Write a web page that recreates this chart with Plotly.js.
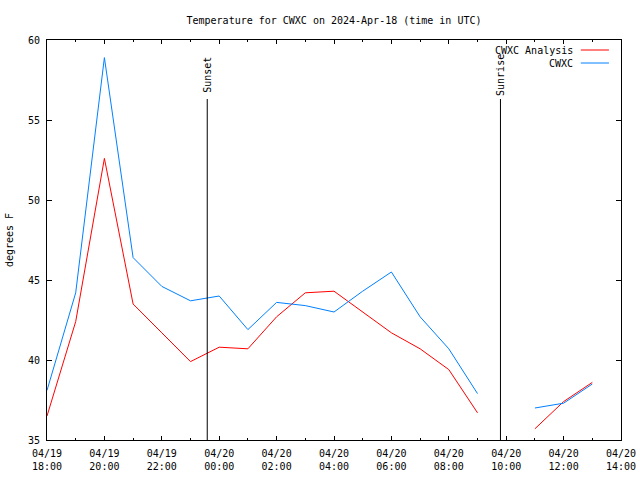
<!DOCTYPE html>
<html>
<head>
<meta charset="utf-8">
<script src="https://cdn.plot.ly/plotly-3.0.1.min.js"></script>
<style>html,body{margin:0;padding:0;background:#fff;}#chart{width:640px;height:480px;}</style>
</head>
<body>
<div id="chart"></div>
<script>
const times = [
  "2024-04-19 18:00","2024-04-19 19:00","2024-04-19 20:00","2024-04-19 21:00",
  "2024-04-19 22:00","2024-04-19 23:00","2024-04-20 00:00","2024-04-20 01:00",
  "2024-04-20 02:00","2024-04-20 03:00","2024-04-20 04:00","2024-04-20 05:00",
  "2024-04-20 06:00","2024-04-20 07:00","2024-04-20 08:00","2024-04-20 09:00",
  "2024-04-20 10:00","2024-04-20 11:00","2024-04-20 12:00","2024-04-20 13:00"
];
const analysis = [36.5, 42.4, 52.6, 43.5, 41.7, 39.9, 40.8, 40.7, 42.7, 44.2, 44.3, 43.0, 41.7, 40.7, 39.4, 36.7, null, 35.7, 37.4, 38.6];
const observed = [38.1, 44.2, 58.9, 46.4, 44.6, 43.7, 44.0, 41.9, 43.6, 43.4, 43.0, 44.3, 45.5, 42.7, 40.7, 37.9, null, 37.0, 37.3, 38.5];
const seriesNames = ["CWXC Analysis", "CWXC"];
const seriesColors = ["#ff0000", "#0080ff"];
const tickVals = ["2024-04-19 18:00","2024-04-19 20:00","2024-04-19 22:00","2024-04-20 00:00","2024-04-20 02:00","2024-04-20 04:00","2024-04-20 06:00","2024-04-20 08:00","2024-04-20 10:00","2024-04-20 12:00","2024-04-20 14:00"];
const tickText = ["04/19<br>18:00","04/19<br>20:00","04/19<br>22:00","04/20<br>00:00","04/20<br>02:00","04/20<br>04:00","04/20<br>06:00","04/20<br>08:00","04/20<br>10:00","04/20<br>12:00","04/20<br>14:00"];
const eventTimes = ["2024-04-19 23:35", "2024-04-20 09:48"];
const eventLabels = ["Sunset", "Sunrise"];

const FONT = "DejaVu Sans Mono, Liberation Mono, monospace";

const traces = [
  {x: times, y: analysis, name: seriesNames[0], type: "scatter", mode: "lines",
   line: {color: seriesColors[0], width: 1}, connectgaps: false},
  {x: times, y: observed, name: seriesNames[1], type: "scatter", mode: "lines",
   line: {color: seriesColors[1], width: 1}, connectgaps: false}
];

const shapes = [];
const annotations = [];
eventTimes.forEach((t, i) => {
  shapes.push({type: "line", xref: "x", yref: "paper", x0: t, x1: t, y0: 0, y1: 0.8525,
               line: {color: "#000", width: 1}});
  annotations.push({xref: "x", yref: "paper", x: t, y: 0.91375, text: eventLabels[i],
                    textangle: -90, showarrow: false, xanchor: "center", yanchor: "middle",
                    font: {family: FONT, size: 10, color: "#000"}});
});
// legend (text left of sample line, gnuplot style)
const legendY = [0.975, 0.9425];
seriesNames.forEach((n, i) => {
  annotations.push({xref: "paper", yref: "paper", x: 0.919, y: legendY[i], text: n,
                    showarrow: false, xanchor: "right", yanchor: "middle",
                    font: {family: FONT, size: 10, color: "#000"}});
  shapes.push({type: "line", xref: "paper", yref: "paper", x0: 0.930, x1: 0.979,
               y0: legendY[i], y1: legendY[i], line: {color: seriesColors[i], width: 1}});
});

const layout = {
  width: 640, height: 480,
  margin: {l: 47, r: 19, t: 40, b: 40},
  paper_bgcolor: "#fff", plot_bgcolor: "#fff",
  showlegend: false,
  font: {family: FONT, size: 10, color: "#000"},
  title: {text: "Temperature for CWXC on 2024-Apr-18 (time in UTC)", x: 0.5, xref: "paper",
          y: 1 - 20/480, yref: "container", yanchor: "middle",
          font: {family: FONT, size: 10, color: "#000"}},
  xaxis: {type: "date", range: ["2024-04-19 18:00", "2024-04-20 14:00"],
          tickmode: "array", tickvals: tickVals, ticktext: tickText,
          ticks: "inside", ticklen: 4, tickcolor: "#000", tickwidth: 1,
          showline: true, linecolor: "#000", linewidth: 1, mirror: "ticks",
          showgrid: false, zeroline: false, ticklabelstandoff: 4,
          minor: {tick0: "2024-04-19 18:00", dtick: 3600000, ticks: "inside", ticklen: 2,
                  tickcolor: "#000", showgrid: false},
          tickfont: {family: FONT, size: 10, color: "#000"}},
  yaxis: {range: [35, 60], dtick: 5, tick0: 35,
          ticks: "inside", ticklen: 5, tickcolor: "#000", tickwidth: 1,
          showline: true, linecolor: "#000", linewidth: 1, mirror: "ticks",
          showgrid: false, zeroline: false, ticklabelstandoff: 4,
          title: {text: "degrees F", standoff: 12, font: {family: FONT, size: 10, color: "#000"}},
          tickfont: {family: FONT, size: 10, color: "#000"}},
  shapes: shapes,
  annotations: annotations
};

Plotly.newPlot("chart", traces, layout, {displayModeBar: false, staticPlot: true});
</script>
</body>
</html>
